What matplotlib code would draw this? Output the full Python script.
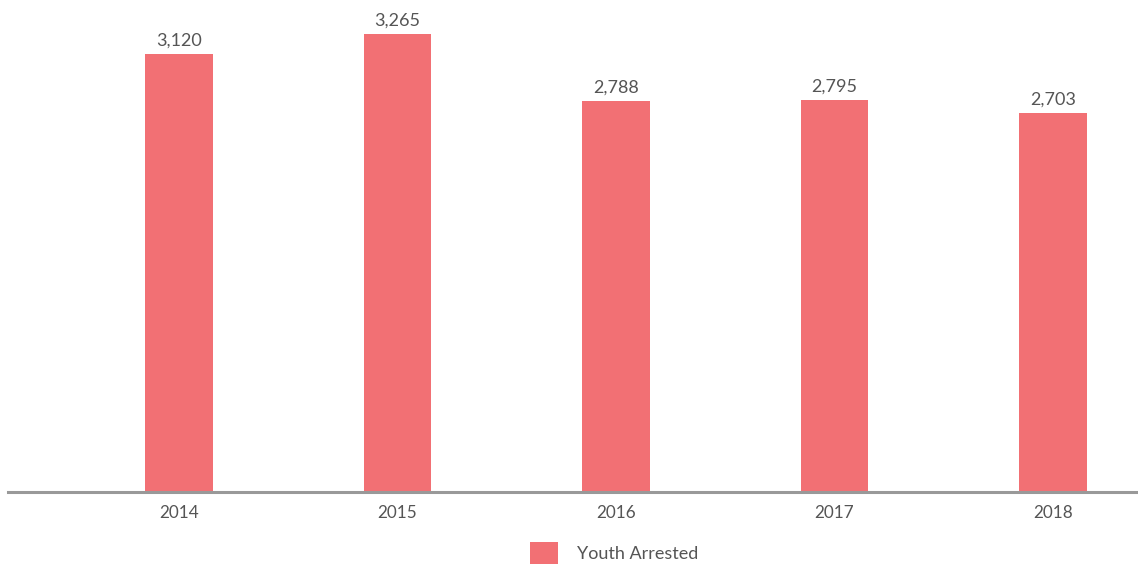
import matplotlib
matplotlib.use("Agg")
import matplotlib.pyplot as plt
from matplotlib.patches import Patch

years = ["2014", "2015", "2016", "2017", "2018"]
youth_arrested = [3120, 3265, 2788, 2795, 2703]
series_name = "Youth Arrested"

bar_color = "#F27074"
text_color = "#555555"

plt.rcParams['font.family'] = ['Lato', 'DejaVu Sans']

fig = plt.figure(figsize=(11.38, 5.67), dpi=100)
ax = fig.add_axes([8/1138, 75/567, 1130/1138, 492/567])

x = list(range(len(years)))
bars = ax.bar(x, youth_arrested, width=0.311, color=bar_color, zorder=2)

for xi, v in zip(x, youth_arrested):
    ax.annotate(f"{v:,}", (xi, v), xytext=(0, 4), textcoords="offset points",
                ha="center", va="bottom", fontsize=13, color=text_color)

ax.set_xlim(-0.7826, 4.389)
ax.set_ylim(0, 3507)
ax.set_xticks(x)
ax.set_xticklabels(years, fontsize=12.3, color=text_color)
ax.tick_params(axis="x", length=0, pad=9)
ax.set_yticks([])
for s in ["top", "right", "left"]:
    ax.spines[s].set_visible(False)
ax.spines["bottom"].set_color("#999999")
ax.spines["bottom"].set_linewidth(2.2)
ax.spines["bottom"].set_zorder(3)

handle = Patch(facecolor=bar_color, edgecolor="none")
fig.legend([handle], [series_name], loc="center", bbox_to_anchor=(614/1138, 1 - 553/567),
           frameon=False, handlelength=1.55, handleheight=1.55,
           handletextpad=1.05, labelcolor=text_color,
           prop={"size": 13})

fig.savefig("out.png", dpi=100)
